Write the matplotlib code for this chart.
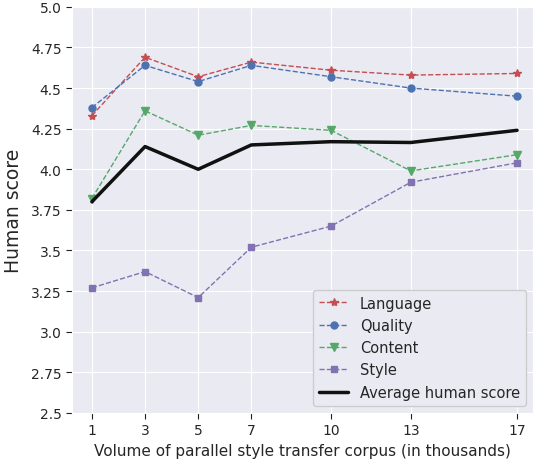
import matplotlib
matplotlib.use("Agg")
import matplotlib.pyplot as plt
import seaborn as sns

volume = [1, 3, 5, 7, 10, 13, 17]
language = [4.33, 4.69, 4.57, 4.66, 4.61, 4.58, 4.59]
quality = [4.38, 4.64, 4.54, 4.64, 4.57, 4.50, 4.45]
content = [3.82, 4.36, 4.21, 4.27, 4.24, 3.99, 4.09]
style = [3.27, 3.37, 3.21, 3.52, 3.65, 3.92, 4.04]
average = [3.80, 4.14, 4.00, 4.15, 4.17, 4.165, 4.24]
yticks = [2.5, 2.75, 3.0, 3.25, 3.5, 3.75, 4.0, 4.25, 4.5, 4.75, 5.0]

sns.set_style("darkgrid", {"xtick.bottom": True, "ytick.left": True})
plt.rcParams['font.family'] = ['DejaVu Sans']

fig = plt.figure(figsize=(5.33, 4.64), dpi=100)
ax = fig.add_axes([0.135, 0.108, 0.865, 0.875])

ax.plot(volume, language, '--', marker='*', color='#C44E52', lw=1, ms=6, label='Language')
ax.plot(volume, quality, '--', marker='o', color='#4C72B0', lw=1, ms=5, label='Quality')
ax.plot(volume, content, '--', marker='v', color='#55A868', lw=1, ms=6, label='Content')
ax.plot(volume, style, '--', marker='s', color='#8172B2', lw=1, ms=5, label='Style')
ax.plot(volume, average, '-', color='#111111', lw=2.5, label='Average human score')

ax.set_xlim(0.25, 17.6)
ax.set_ylim(2.5, 5.0)
ax.set_xticks(volume)
ax.set_yticks(yticks)
ax.set_yticklabels([f"{v:.2f}" if v * 4 % 2 else f"{v:.1f}" for v in yticks])
ax.tick_params(labelsize=10, length=4, color='#222222', labelcolor='#262626')
ax.set_xlabel('Volume of parallel style transfer corpus (in thousands)', fontsize=11)
ax.set_ylabel('Human score', fontsize=13.5, labelpad=6)
ax.legend(loc='lower right', fontsize=10.5, frameon=True, facecolor='#EAEAF2', edgecolor='#CCCCCC', framealpha=1)

fig.savefig('out.png', dpi=100)
